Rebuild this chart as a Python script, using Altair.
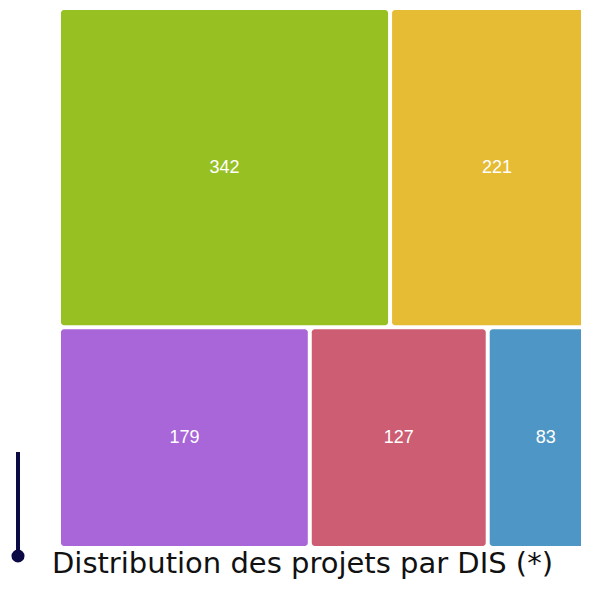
import altair as alt
import pandas as pd

categories = ["DIS 1", "DIS 2", "DIS 3", "DIS 4", "DIS 5"]
values = [342, 221, 179, 127, 83]
colors = ["#97C123", "#E6BC35", "#A866D8", "#CC5D72", "#4D96C5"]
title_text = "Distribution des projets par DIS (*)"


def worst(row, side):
    s = sum(row)
    return max(side * side * max(row) / (s * s), (s * s) / (side * side * min(row)))


def squarify(vals, x, y, w, h):
    total = sum(vals)
    areas = [v / total * w * h for v in vals]
    out = []
    i = 0
    while i < len(areas):
        side = min(w, h)
        row = [areas[i]]
        j = i + 1
        while j < len(areas) and worst(row + [areas[j]], side) <= worst(row, side):
            row.append(areas[j])
            j += 1
        s = sum(row)
        if w <= h:
            rh = s / w
            cx = x
            for a in row:
                rw = a / rh
                out.append((cx, cx + rw, y, y + rh))
                cx += rw
            y += rh
            h -= rh
        else:
            rw = s / h
            cy = y
            for a in row:
                rh2 = a / rw
                out.append((x, x + rw, cy, cy + rh2))
                cy += rh2
            x += rw
            w -= rw
        i = j
    return out


cells = squarify(values, 0.0, 0.0, 1.0, 1.0)
df = pd.DataFrame({
    "cat": categories,
    "value": values,
    "x0": [c[0] for c in cells],
    "x1": [c[1] for c in cells],
    "y0": [c[2] for c in cells],
    "y1": [c[3] for c in cells],
})

# the treemap is wider than the visible view: it is cut at the right edge
xs = alt.Scale(domain=[0, 1], nice=False, zero=False, range=[0, 545])
ys = alt.Scale(domain=[0, 1], nice=False, zero=False, range=[0, 540])

base = alt.Chart(df)

rects = base.mark_rect(
    cornerRadius=3, xOffset=2, x2Offset=-2, yOffset=2, y2Offset=-2
).encode(
    x=alt.X("x0:Q", scale=xs, axis=None),
    x2="x1:Q",
    y=alt.Y("y0:Q", scale=ys, axis=None),
    y2="y1:Q",
    color=alt.Color("cat:N", scale=alt.Scale(domain=categories, range=colors), legend=None),
)

labels = base.transform_calculate(
    cx="(datum.x0 + datum.x1) / 2", cy="(datum.y0 + datum.y1) / 2"
).mark_text(
    color="white", fontSize=18, font="Liberation Sans", baseline="middle", align="center"
).encode(
    x=alt.X("cx:Q", scale=xs, axis=None),
    y=alt.Y("cy:Q", scale=ys, axis=None),
    text="value:Q",
)

tdf = pd.DataFrame({"t": [title_text]})
deco_line = alt.Chart(tdf).mark_rule(color="#0C0A45", strokeWidth=4).encode(
    x=alt.value(-41), y=alt.value(444), y2=alt.value(548)
)
deco_dot = alt.Chart(tdf).mark_circle(color="#0C0A45", opacity=1, size=170).encode(
    x=alt.value(-41), y=alt.value(548)
)
title = alt.Chart(tdf).mark_text(
    align="left", baseline="alphabetic", fontSize=29, font="DejaVu Sans", color="#111111"
).encode(x=alt.value(-7), y=alt.value(565), text="t:N")

chart = alt.layer(rects, labels, deco_line, deco_dot, title).properties(
    width=522,
    height=540,
    padding={"left": 51, "top": 0, "right": 0, "bottom": 33},
    autosize=alt.AutoSizeParams(type="none"),
).configure_view(stroke=None)

chart.save("out.html", embed_options={"renderer": "svg", "actions": False})
